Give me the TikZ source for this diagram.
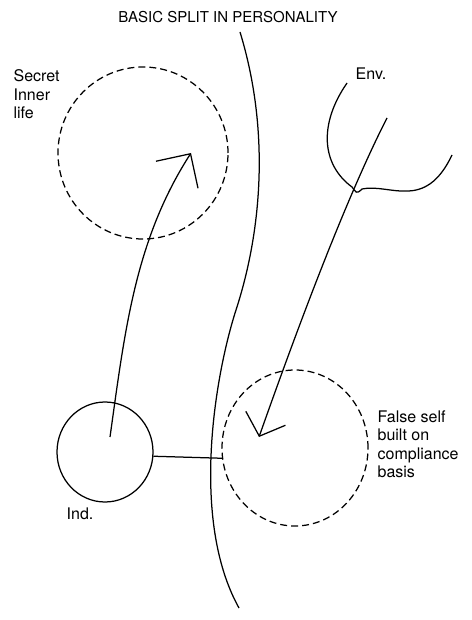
\documentclass[tikz,border=0pt]{standalone}
\usepackage{fontspec}
\setmainfont{TeX Gyre Heros}
\usetikzlibrary{arrows.meta,shapes.geometric}
\begin{document}
\begin{tikzpicture}[x=1pt, y=-1pt, line width=1.25pt,
  blob/.style={ellipse, draw, inner sep=0pt},
  zone/.style={blob, dash pattern=on 7pt off 4pt},
  lbl/.style={font=\fontsize{16}{18.5}\selectfont, align=left, inner sep=0pt},
  bigbarb/.style={-{Straight Barb[length=25pt,width=50pt]}},
  smallbarb/.style={-{Straight Barb[length=19pt,width=42pt]}}]
\useasboundingbox (0,0) rectangle (471,620);
\node[font=\fontsize{15}{18}\selectfont, inner sep=0pt] (title) at (228,17) {BASIC SPLIT IN PERSONALITY};
\node[zone, minimum width=170pt, minimum height=172pt] (secret) at (143,153) {};
\node[blob, minimum width=96pt, minimum height=100pt] (ind) at (105,452) {};
\node[zone, minimum width=146pt, minimum height=156pt] (falseself) at (295,448) {};
\node[lbl, anchor=north west] (secretlbl) at (13,69) {Secret\\Inner\\life};
\node[lbl, anchor=north west] (falselbl) at (377,410) {False self\\built on\\compliance\\basis};
\node[lbl] (indlbl) at (80,514) {Ind.};
\node[lbl] (envlbl) at (371,74) {Env.};
% the split
\draw (240,32) .. controls (270,130) and (262,230) .. (236,310)
  .. controls (215,375) and (190,520) .. (239,608);
\draw (ind.-5) -- (falseself.188);
\coordinate (indstart) at (110,437);
\coordinate (lifeend) at (191,153);
\draw[bigbarb] (indstart) .. controls (125,330) and (135,240) .. (lifeend);
\coordinate (envtop) at (387,118);
\coordinate (falseend) at (259,437);
\draw[smallbarb] (envtop) .. controls (345,200) and (295,335) .. (falseend);
\draw (347,83) .. controls (318,125) and (322,165) .. (352,187)
  .. controls (356,192) and (356,195) .. (362,189)
  .. controls (390,183) and (425,212) .. (452,155);
\end{tikzpicture}
\end{document}
